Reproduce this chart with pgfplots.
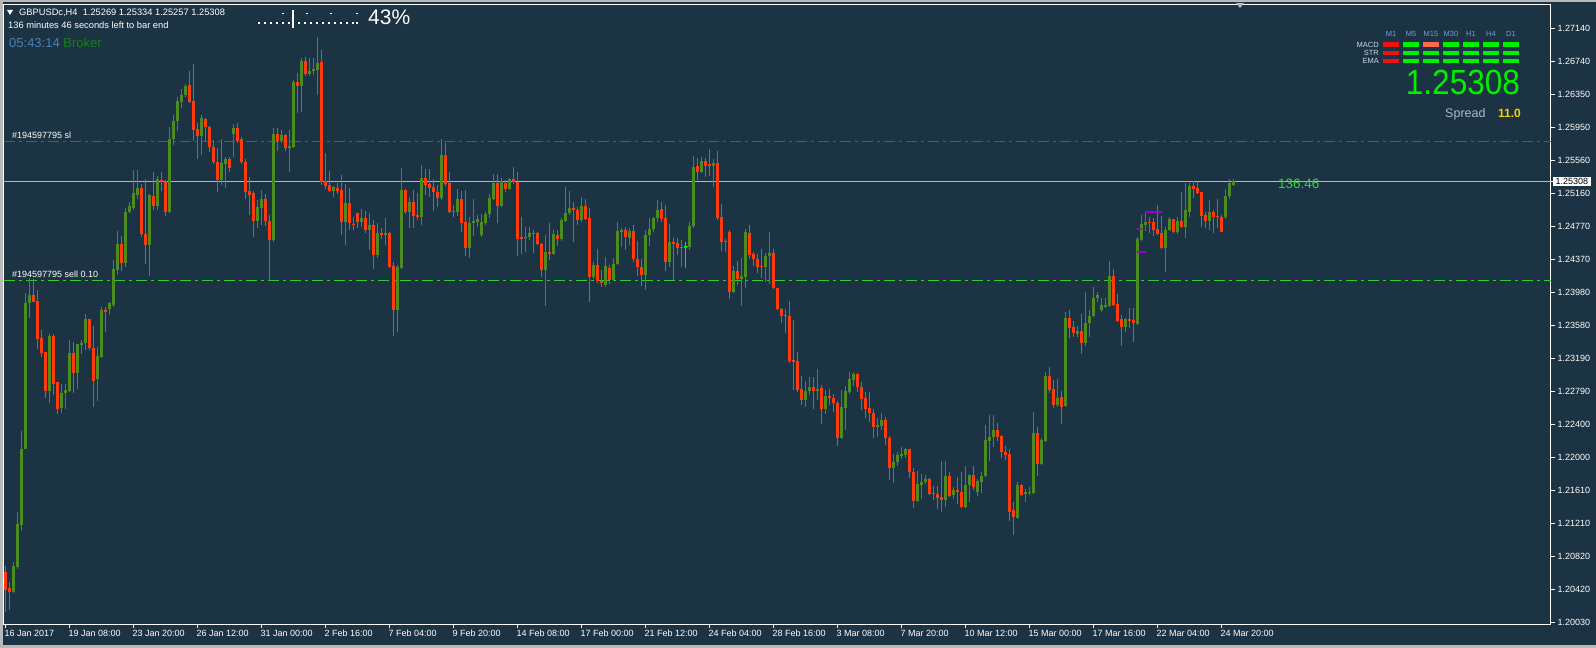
\documentclass[border=0pt]{standalone}
\usepackage{pgfplots}
\pgfplotsset{compat=1.18}
\usepackage{pgfplotstable}
\usepackage{fontspec}
\setmainfont{Liberation Sans}
\definecolor{bgc}{HTML}{1C3343}
\definecolor{cup}{HTML}{4C8C1E}
\definecolor{cdn}{HTML}{FF3B0B}
\definecolor{sllc}{HTML}{E81C1C}
\definecolor{selc}{HTML}{32CD32}
\definecolor{curc}{HTML}{B0B8C0}
\definecolor{limec}{HTML}{00F000}
\definecolor{purp}{HTML}{9A00D0}
\definecolor{winc}{HTML}{B8B8B8}
\definecolor{steelc}{HTML}{4682B4}
\definecolor{brokc}{HTML}{16801A}
\definecolor{hdrc}{HTML}{6F9FD8}
\definecolor{rowc}{HTML}{C8D8F0}
\definecolor{sprc}{HTML}{A9BCD0}
\definecolor{goldc}{HTML}{F5D000}
\definecolor{salc}{HTML}{FF6A4A}
\definecolor{redc}{HTML}{F01010}
\definecolor{timec}{HTML}{3CD23C}
\newcommand{\fs}[1]{\fontsize{#1}{#1}\selectfont}
\pgfplotstableread{
i o h l c t
0 1.20636 1.20708 1.20156 1.20420 0
1 1.20444 1.20516 1.20180 1.20396 0
2 1.20396 1.20756 1.20384 1.20708 1
3 1.20696 1.21344 1.20672 1.21200 1
4 1.21188 1.22318 1.21128 1.22102 1
5 1.22102 1.23974 1.22100 1.23854 1
6 1.23854 1.24154 1.23674 1.23950 1
7 1.23950 1.24142 1.23866 1.23866 0
8 1.23878 1.24010 1.23302 1.23422 0
9 1.23434 1.23530 1.23206 1.23254 0
10 1.23266 1.23266 1.22714 1.22798 0
11 1.22798 1.23482 1.22654 1.23458 1
12 1.23458 1.23482 1.22750 1.22882 0
13 1.22906 1.22906 1.22522 1.22582 0
14 1.22594 1.22882 1.22534 1.22774 1
15 1.22774 1.22882 1.22582 1.22810 1
16 1.22798 1.23410 1.22786 1.23254 1
17 1.23254 1.23386 1.22774 1.23014 0
18 1.23014 1.23362 1.22822 1.23362 1
19 1.23350 1.23410 1.23242 1.23374 1
20 1.23374 1.23722 1.23290 1.23662 1
21 1.23662 1.23662 1.23290 1.23314 0
22 1.23314 1.23578 1.22606 1.22918 0
23 1.22942 1.23326 1.22678 1.23218 1
24 1.23206 1.23806 1.23194 1.23770 1
25 1.23770 1.23806 1.23506 1.23746 0
26 1.23782 1.23866 1.23710 1.23854 1
27 1.23830 1.24370 1.23806 1.24262 1
28 1.24250 1.24718 1.24190 1.24562 1
29 1.24562 1.24658 1.24238 1.24334 0
30 1.24334 1.24994 1.24286 1.24946 1
31 1.24946 1.25066 1.24934 1.25018 1
32 1.24994 1.25438 1.24970 1.25162 1
33 1.25138 1.25438 1.25090 1.25222 1
34 1.25222 1.25270 1.24646 1.24682 0
35 1.24682 1.25330 1.24322 1.24550 0
36 1.24550 1.25150 1.24178 1.25138 1
37 1.25126 1.25414 1.24970 1.25018 0
38 1.25018 1.25366 1.24970 1.25330 1
39 1.25318 1.25414 1.25186 1.25294 0
40 1.25306 1.25318 1.24898 1.24946 0
41 1.24946 1.25956 1.24934 1.25812 1
42 1.25812 1.26100 1.25740 1.26028 1
43 1.26028 1.26316 1.25908 1.26268 1
44 1.26256 1.26412 1.26184 1.26340 1
45 1.26340 1.26472 1.26316 1.26448 1
46 1.26460 1.26628 1.26244 1.26256 0
47 1.26268 1.26712 1.25788 1.25920 0
48 1.25932 1.26004 1.25570 1.25848 0
49 1.25848 1.26100 1.25618 1.26064 1
50 1.26052 1.26064 1.25788 1.25956 0
51 1.25956 1.25968 1.25654 1.25716 0
52 1.25716 1.25800 1.25510 1.25534 0
53 1.25534 1.25704 1.25174 1.25318 0
54 1.25318 1.25812 1.25258 1.25522 1
55 1.25510 1.25594 1.25222 1.25570 1
56 1.25570 1.25594 1.25414 1.25462 0
57 1.25872 1.25992 1.25594 1.25944 1
58 1.25944 1.26004 1.25764 1.25788 0
59 1.25812 1.25836 1.25510 1.25534 0
60 1.25534 1.25570 1.25090 1.25174 0
61 1.25186 1.25354 1.24910 1.25138 0
62 1.25162 1.25186 1.24646 1.24838 0
63 1.24838 1.25078 1.24754 1.25006 1
64 1.24994 1.25198 1.24790 1.25090 1
65 1.25090 1.25150 1.24778 1.24838 0
66 1.24838 1.24910 1.24118 1.24610 0
67 1.24610 1.25944 1.24586 1.25872 1
68 1.25872 1.25944 1.25666 1.25788 0
69 1.25788 1.25920 1.25764 1.25860 1
70 1.25860 1.25872 1.25666 1.25704 0
71 1.25704 1.25920 1.25414 1.25728 1
72 1.25716 1.26520 1.25704 1.26496 1
73 1.26496 1.26604 1.26124 1.26448 0
74 1.26448 1.26784 1.26136 1.26748 1
75 1.26748 1.26796 1.26568 1.26592 0
76 1.26592 1.26784 1.26568 1.26628 1
77 1.26628 1.26784 1.26580 1.26652 1
78 1.26640 1.27036 1.26340 1.26724 1
79 1.26736 1.26880 1.25258 1.25294 0
80 1.25306 1.25642 1.25210 1.25246 0
81 1.25258 1.25426 1.25174 1.25186 0
82 1.25186 1.25246 1.25114 1.25234 1
83 1.25222 1.25282 1.25150 1.25186 0
84 1.25198 1.25378 1.24670 1.24826 0
85 1.24826 1.25270 1.24550 1.25054 1
86 1.25054 1.25222 1.24730 1.24814 0
87 1.24802 1.24886 1.24730 1.24790 0
88 1.24934 1.24934 1.24754 1.24826 0
89 1.24826 1.24982 1.24766 1.24874 1
90 1.24874 1.24958 1.24694 1.24730 0
91 1.24730 1.24934 1.24490 1.24790 1
92 1.24790 1.24850 1.24262 1.24430 0
93 1.24430 1.24814 1.24394 1.24694 1
94 1.24694 1.24754 1.24622 1.24670 0
95 1.24670 1.24874 1.24550 1.24694 1
96 1.24694 1.24706 1.24274 1.24286 0
97 1.24298 1.24346 1.23458 1.23770 0
98 1.23770 1.24310 1.23506 1.24286 1
99 1.24274 1.25462 1.24262 1.25198 1
100 1.25198 1.25210 1.24922 1.24946 0
101 1.24946 1.25114 1.24754 1.25066 1
102 1.25066 1.25198 1.24754 1.24898 0
103 1.24910 1.25162 1.24850 1.24886 0
104 1.24886 1.25498 1.24790 1.25342 1
105 1.25342 1.25450 1.25138 1.25258 0
106 1.25270 1.25450 1.25114 1.25222 0
107 1.25234 1.25330 1.24958 1.25174 0
108 1.25174 1.25258 1.25006 1.25102 0
109 1.25102 1.25812 1.25078 1.25618 1
110 1.25618 1.25764 1.25246 1.25270 0
111 1.25282 1.25414 1.24934 1.24946 0
112 1.24958 1.25030 1.24886 1.24946 0
113 1.24946 1.25210 1.24898 1.25090 1
114 1.25090 1.25186 1.24706 1.24814 0
115 1.24826 1.25198 1.24418 1.24514 0
116 1.24514 1.24886 1.24394 1.24814 1
117 1.24814 1.25090 1.24658 1.24838 1
118 1.24826 1.24910 1.24766 1.24862 1
119 1.24670 1.24922 1.24646 1.24826 1
120 1.24814 1.24946 1.24790 1.24922 1
121 1.24922 1.25150 1.24874 1.25102 1
122 1.25090 1.25390 1.25078 1.25282 1
123 1.25282 1.25390 1.24814 1.25018 0
124 1.25018 1.25342 1.25006 1.25306 1
125 1.25282 1.25318 1.25174 1.25210 0
126 1.25210 1.25342 1.25198 1.25330 1
127 1.25330 1.25474 1.25270 1.25294 0
128 1.25294 1.25414 1.24418 1.24622 0
129 1.24646 1.24886 1.24442 1.24622 0
130 1.24634 1.24766 1.24466 1.24646 1
131 1.24646 1.24766 1.24610 1.24694 1
132 1.24694 1.24730 1.24454 1.24682 0
133 1.24694 1.24706 1.24550 1.24562 0
134 1.24562 1.24574 1.24166 1.24250 0
135 1.24250 1.24670 1.23818 1.24466 1
136 1.24466 1.24814 1.24370 1.24442 0
137 1.24442 1.24730 1.24430 1.24682 1
138 1.24670 1.24730 1.24538 1.24622 0
139 1.24622 1.24874 1.24598 1.24850 1
140 1.24838 1.25234 1.24826 1.24934 1
141 1.24934 1.25186 1.24910 1.24994 1
142 1.24994 1.25066 1.24586 1.24970 0
143 1.24970 1.25006 1.24790 1.24850 0
144 1.24850 1.25114 1.24826 1.25018 1
145 1.25018 1.25090 1.24850 1.24862 0
146 1.24874 1.24994 1.23866 1.24166 0
147 1.24166 1.24346 1.24142 1.24310 1
148 1.24310 1.24502 1.24094 1.24118 0
149 1.24118 1.24250 1.24046 1.24094 0
150 1.24070 1.24406 1.24046 1.24298 1
151 1.24274 1.24310 1.24082 1.24130 0
152 1.24130 1.24394 1.24118 1.24322 1
153 1.24322 1.24826 1.24310 1.24718 1
154 1.24706 1.24754 1.24526 1.24730 1
155 1.24730 1.24766 1.24490 1.24646 0
156 1.24634 1.24754 1.24550 1.24718 1
157 1.24718 1.24790 1.24346 1.24382 0
158 1.24382 1.24598 1.24178 1.24286 0
159 1.24286 1.24382 1.24058 1.24190 0
160 1.24190 1.24730 1.24010 1.24670 1
161 1.24670 1.24874 1.24538 1.24742 1
162 1.24742 1.24886 1.24706 1.24874 1
163 1.24874 1.25078 1.24826 1.24970 1
164 1.24982 1.25066 1.24826 1.24862 0
165 1.24874 1.25030 1.24238 1.24346 0
166 1.24346 1.24802 1.24286 1.24586 1
167 1.24586 1.24634 1.24130 1.24562 0
168 1.24574 1.24634 1.24430 1.24514 0
169 1.24514 1.24610 1.24286 1.24526 1
170 1.24514 1.24586 1.24274 1.24538 1
171 1.24526 1.24826 1.24490 1.24778 1
172 1.24778 1.25606 1.24754 1.25474 1
173 1.25486 1.25582 1.25318 1.25414 0
174 1.25414 1.25594 1.25402 1.25546 1
175 1.25546 1.25582 1.25354 1.25486 0
176 1.25510 1.25692 1.25366 1.25486 0
177 1.25486 1.25570 1.25234 1.25522 1
178 1.25522 1.25666 1.24850 1.24874 0
179 1.24886 1.25042 1.24478 1.24586 0
180 1.24586 1.24622 1.24466 1.24598 1
181 1.24706 1.24730 1.23902 1.23986 0
182 1.23986 1.24298 1.23974 1.24238 1
183 1.24238 1.24358 1.24070 1.24142 0
184 1.24142 1.24394 1.23818 1.24178 1
185 1.24166 1.24742 1.24034 1.24706 1
186 1.24694 1.24790 1.24382 1.24430 0
187 1.24442 1.24466 1.24298 1.24382 0
188 1.24382 1.24442 1.24214 1.24286 0
189 1.24298 1.24502 1.24154 1.24286 0
190 1.24286 1.24454 1.24106 1.24418 1
191 1.24418 1.24706 1.24082 1.24454 1
192 1.24454 1.24502 1.24022 1.24034 0
193 1.24034 1.24034 1.23770 1.23782 0
194 1.23782 1.23794 1.23614 1.23698 0
195 1.23710 1.23782 1.23494 1.23698 0
196 1.23698 1.23878 1.23134 1.23158 0
197 1.23170 1.23650 1.22810 1.23146 0
198 1.23158 1.23266 1.22786 1.22810 0
199 1.22822 1.22978 1.22630 1.22690 0
200 1.22690 1.22918 1.22606 1.22798 1
201 1.22798 1.22966 1.22750 1.22846 1
202 1.22846 1.22966 1.22582 1.22798 0
203 1.22798 1.23062 1.22690 1.22822 1
204 1.22834 1.22870 1.22402 1.22582 0
205 1.22582 1.22810 1.22522 1.22738 1
206 1.22738 1.22822 1.22630 1.22714 0
207 1.22714 1.22762 1.22546 1.22654 0
208 1.22654 1.22678 1.22138 1.22234 0
209 1.22234 1.22810 1.22222 1.22606 1
210 1.22594 1.22858 1.22330 1.22798 1
211 1.22786 1.23026 1.22762 1.22942 1
212 1.22930 1.23026 1.22858 1.23002 1
213 1.23002 1.23014 1.22786 1.22846 0
214 1.22846 1.22906 1.22570 1.22702 0
215 1.22714 1.22786 1.22474 1.22582 0
216 1.22594 1.22786 1.22426 1.22534 0
217 1.22534 1.22582 1.22234 1.22366 0
218 1.22366 1.22474 1.22246 1.22390 1
219 1.22378 1.22534 1.22330 1.22450 1
220 1.22450 1.22486 1.22150 1.22234 0
221 1.22234 1.22258 1.21728 1.21872 0
222 1.21872 1.22040 1.21692 1.21944 1
223 1.21944 1.22064 1.21896 1.22028 1
224 1.22016 1.22126 1.21980 1.22040 1
225 1.22028 1.22114 1.21992 1.22100 1
226 1.22100 1.22102 1.21752 1.21824 0
227 1.21824 1.21872 1.21392 1.21476 0
228 1.21476 1.21836 1.21464 1.21680 1
229 1.21668 1.21800 1.21500 1.21704 1
230 1.21704 1.21788 1.21680 1.21740 1
231 1.21740 1.21752 1.21548 1.21560 0
232 1.21572 1.21656 1.21488 1.21560 0
233 1.21560 1.21656 1.21380 1.21512 0
234 1.21524 1.21956 1.21344 1.21488 0
235 1.21488 1.21956 1.21404 1.21776 1
236 1.21776 1.21824 1.21524 1.21536 0
237 1.21548 1.21644 1.21500 1.21608 1
238 1.21608 1.21764 1.21440 1.21584 0
239 1.21584 1.21824 1.21392 1.21404 0
240 1.21404 1.21896 1.21392 1.21668 1
241 1.21668 1.21800 1.21464 1.21788 1
242 1.21788 1.21896 1.21608 1.21644 0
243 1.21584 1.21740 1.21536 1.21716 1
244 1.21704 1.21824 1.21572 1.21776 1
245 1.21776 1.22390 1.21764 1.22210 1
246 1.22198 1.22510 1.21956 1.22246 1
247 1.22246 1.22510 1.22126 1.22330 1
248 1.22330 1.22414 1.22198 1.22246 0
249 1.22258 1.22270 1.21992 1.22064 0
250 1.22064 1.22138 1.21968 1.22028 0
251 1.22040 1.22100 1.21236 1.21344 0
252 1.21368 1.21464 1.21080 1.21284 0
253 1.21272 1.21704 1.21260 1.21668 1
254 1.21668 1.21680 1.21536 1.21548 0
255 1.21560 1.21620 1.21464 1.21584 1
256 1.21572 1.21644 1.21548 1.21584 1
257 1.21572 1.22546 1.21560 1.22294 1
258 1.22294 1.22366 1.21776 1.21920 0
259 1.21920 1.22234 1.21908 1.22210 1
260 1.22198 1.23026 1.22186 1.22978 1
261 1.22978 1.23086 1.22774 1.22810 0
262 1.22822 1.22930 1.22594 1.22630 0
263 1.22630 1.22942 1.22606 1.22714 1
264 1.22726 1.22798 1.22402 1.22606 0
265 1.22618 1.23746 1.22606 1.23674 1
266 1.23674 1.23770 1.23434 1.23554 0
267 1.23566 1.23638 1.23446 1.23494 0
268 1.23482 1.23578 1.23446 1.23518 1
269 1.23518 1.23722 1.23242 1.23374 0
270 1.23374 1.23986 1.23338 1.23614 1
271 1.23614 1.23770 1.23446 1.23698 1
272 1.23698 1.24046 1.23686 1.23914 1
273 1.23914 1.23986 1.23866 1.23950 1
274 1.23770 1.23914 1.23746 1.23830 1
275 1.23806 1.23914 1.23794 1.23830 1
276 1.23818 1.24358 1.23806 1.24178 1
277 1.24178 1.24262 1.23818 1.23830 0
278 1.23842 1.23962 1.23626 1.23638 0
279 1.23662 1.23710 1.23338 1.23566 0
280 1.23566 1.23674 1.23506 1.23662 1
281 1.23662 1.23794 1.23554 1.23638 0
282 1.23650 1.23794 1.23386 1.23614 0
283 1.23602 1.24646 1.23590 1.24622 1
284 1.24610 1.24910 1.24598 1.24802 1
285 1.24790 1.24934 1.24718 1.24826 1
286 1.24826 1.24886 1.24694 1.24814 0
287 1.24826 1.24874 1.24658 1.24730 0
288 1.24742 1.25030 1.24670 1.24682 0
289 1.24694 1.24898 1.24502 1.24514 0
290 1.24514 1.24766 1.24226 1.24730 1
291 1.24730 1.24886 1.24718 1.24862 1
292 1.24862 1.24862 1.24694 1.24706 0
293 1.24706 1.24886 1.24682 1.24838 1
294 1.24838 1.25174 1.24754 1.24766 0
295 1.24766 1.25282 1.24634 1.24970 1
296 1.24946 1.25282 1.24886 1.25246 1
297 1.25246 1.25306 1.25102 1.25210 0
298 1.25222 1.25294 1.25150 1.25162 0
299 1.25174 1.25174 1.24766 1.24898 0
300 1.24910 1.24946 1.24754 1.24838 0
301 1.24838 1.25078 1.24730 1.24946 1
302 1.24946 1.24970 1.24694 1.24886 0
303 1.24898 1.25090 1.24754 1.24886 0
304 1.24886 1.24910 1.24706 1.24706 0
305 1.24886 1.25210 1.24862 1.25126 1
306 1.25126 1.25330 1.25090 1.25282 1
307 1.25269 1.25334 1.25257 1.25308 1
}\candles
\begin{document}
\begin{tikzpicture}[x=1pt,y=1pt]
\fill[bgc] (0,0) rectangle (1596,648);
\fill[winc] (0,0) rectangle (1596,2.5);
\fill[winc] (0,0) rectangle (2.5,648);
\fill[winc] (0,645.5) rectangle (1596,648);
\begin{axis}[at={(4pt,24pt)}, anchor=south west, scale only axis,
  width=1547pt, height=619pt,
  xmin=-0.5, xmax=386.25, ymin=1.20009, ymax=1.27418,
  axis line style={white, line width=1pt},
  tick align=outside, major tick length=4pt,
  xtick pos=left, ytick pos=right, yticklabel pos=right,
  tick style={white, line width=1pt},
  xtick={0,16,...,304},
  xticklabels={16 Jan 2017,19 Jan 08:00,23 Jan 20:00,26 Jan 12:00,31 Jan 00:00,2 Feb 16:00,7 Feb 04:00,9 Feb 20:00,14 Feb 08:00,17 Feb 00:00,21 Feb 12:00,24 Feb 04:00,28 Feb 16:00,3 Mar 08:00,7 Mar 20:00,10 Mar 12:00,15 Mar 00:00,17 Mar 16:00,22 Mar 04:00,24 Mar 20:00},
  ytick={1.27140,1.26740,1.26350,1.25950,1.25560,1.25160,1.24770,1.24370,1.23980,1.23580,1.23190,1.22790,1.22400,1.22000,1.21610,1.21210,1.20820,1.20420,1.20030},
  yticklabels={1.27140,1.26740,1.26350,1.25950,1.25560,1.25160,1.24770,1.24370,1.23980,1.23580,1.23190,1.22790,1.22400,1.22000,1.21610,1.21210,1.20820,1.20420,1.20030},
  ticklabel style={font=\fs{9}, text=white, inner sep=0pt},
  xticklabel style={anchor=north west, xshift=-1.5pt, yshift=-2pt},
  yticklabel style={anchor=west, xshift=2.5pt},
  extra y ticks={1.25308}, extra y tick labels={1.25308},
  extra y tick style={yticklabel style={fill=white, text=black, inner xsep=3pt, inner ysep=1.5pt, xshift=-5pt}},
]
% horizontal order lines
\addplot[sllc, line width=1pt, dash pattern=on 11pt off 4pt on 3pt off 4pt, forget plot] coordinates {(-0.5,1.25787) (386.25,1.25787)};
\addplot[selc, line width=1pt, dash pattern=on 11pt off 4pt on 3pt off 4pt, forget plot] coordinates {(-0.5,1.24123) (386.25,1.24123)};
\addplot[curc, line width=1pt, forget plot] coordinates {(-0.5,1.25308) (386.25,1.25308)};
% wicks
\addplot[cup, line width=1pt, forget plot, -, quiver={u={0}, v={\thisrow{t}*(\thisrow{l}-\thisrow{h})}}] table[x=i, y=h] {\candles};
\addplot[cdn, line width=1pt, forget plot, -, quiver={u={0}, v={(1-\thisrow{t})*(\thisrow{l}-\thisrow{h})}}] table[x=i, y=h] {\candles};
% bodies
\addplot[cup, line width=3pt, forget plot, -, quiver={u={0}, v={\thisrow{t}*min(\thisrow{o}-\thisrow{c},-0.0001)}}] table[x=i, y=c] {\candles};
\addplot[cdn, line width=3pt, forget plot, -, quiver={u={0}, v={(1-\thisrow{t})*min(\thisrow{c}-\thisrow{o},-0.0001)}}] table[x=i, y=o] {\candles};
% trade marker and purple levels
\addplot[limec, line width=1pt, forget plot] coordinates {(170,1.24586) (170,1.24274)};
\addplot[limec, line width=1pt, forget plot] coordinates {(169.4,1.24522) (170.6,1.24522)};
\addplot[purp, line width=2pt, forget plot] coordinates {(284.75,1.24944) (289,1.24944)};
\addplot[purp, line width=2pt, forget plot] coordinates {(282.75,1.24740) (284,1.24740)};
\addplot[purp, line width=2pt, forget plot] coordinates {(282.75,1.24465) (285,1.24465)};
\end{axis}
% header texts
\fill[white] (7,638) -- (13,638) -- (10,633) -- cycle;
\node[anchor=base west, inner sep=0pt, text=white, font=\fs{9.3}] at (19,632) {GBPUSDc,H4\ \ 1.25269 1.25334 1.25257 1.25308};
\node[anchor=base west, inner sep=0pt, text=white, font=\fs{9.3}] at (8,619.7) {136 minutes 46 seconds left to bar end};
\node[anchor=base west, inner sep=0pt, font=\fs{13}] at (9,600) {\textcolor{steelc}{05:43:14} \textcolor{brokc}{Broker}};
\node[anchor=base west, inner sep=0pt, text=white, font=\fs{21}] at (368,623.8) {43\%};
\foreach \xx in {258,264,270,276,282,288,298,304,310,316,322,328,334,340,346,352,356}{\fill[white] (\xx,624) rectangle ++(1.6,1.6);}
\foreach \xx in {282,306,330,356}{\fill[white] (\xx,633.5) rectangle ++(1.6,1.6);}
\fill[white] (292.4,620) rectangle (293.8,638);
% order labels
\node[anchor=base west, inner sep=0pt, text=white, font=\fs{9}] at (12,509.8) {\#194597795 sl};
\node[anchor=base west, inner sep=0pt, text=white, font=\fs{9}] at (12,370.3) {\#194597795 sell 0.10};
\node[anchor=base west, inner sep=0pt, text=timec, font=\fs{13.5}] at (1278,459.1) {136:46};
% small shift marker
\fill[curc] (1236,645) -- (1244,645) -- (1240,640) -- cycle;
% indicator panel
\foreach \lab/\xc in {M1/1391,M5/1411,M15/1431,M30/1451,H1/1471,H4/1491,D1/1511}{\node[anchor=base, inner sep=0pt, text=hdrc, font=\fs{7.5}] at (\xc,611) {\lab};}
\node[anchor=base east, inner sep=0pt, text=rowc, font=\fs{7.5}] at (1379,600.6) {MACD};
\node[anchor=base east, inner sep=0pt, text=rowc, font=\fs{7.5}] at (1379,592.5) {STR};
\node[anchor=base east, inner sep=0pt, text=rowc, font=\fs{7.5}] at (1379,584.1) {EMA};
\foreach \yy in {601.3,593,584.7}{
  \fill[redc] (1383,\yy) rectangle ++(16,4.3);
  \foreach \xx in {1403,1423,1443,1463,1483,1503}{\fill[limec] (\xx,\yy) rectangle ++(16,4.3);}
}
\fill[salc] (1423,601.3) rectangle ++(16,4.3);
\node[anchor=base east, inner sep=0pt, text=limec, font=\fs{35}, xscale=0.9] at (1520,553) {1.25308};
\node[anchor=base west, inner sep=0pt, text=sprc, font=\fs{12.5}] at (1445,530.5) {Spread};
\node[anchor=base west, inner sep=0pt, text=goldc, font=\fs{12}\bfseries] at (1498,530.5) {11.0};
\end{tikzpicture}
\end{document}
